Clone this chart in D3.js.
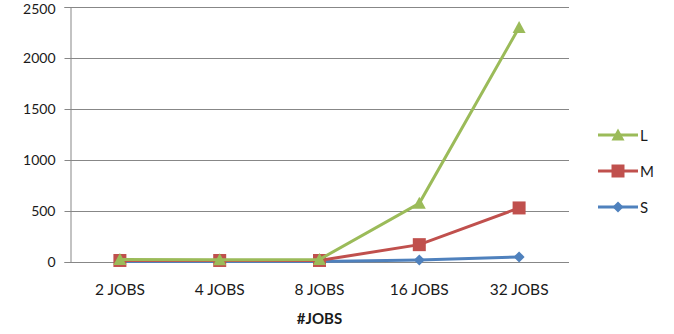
<!DOCTYPE html>
<html>
<head>
<meta charset="utf-8">
<script src="https://cdn.jsdelivr.net/npm/d3@7"></script>
<style>
  body { margin: 0; background: #fff; }
  svg { display: block; font-family: Lato, "Open Sans", sans-serif; }
</style>
</head>
<body>
<svg id="chart" width="674" height="334"></svg>
<script>
// Job counts on the x axis
const categories = ["2 JOBS", "4 JOBS", "8 JOBS", "16 JOBS", "32 JOBS"];
// Values per workload size
const seriesL = [25, 22, 25, 575, 2300];
const seriesM = [15, 15, 15, 170, 530];
const seriesS = [5, 5, 5, 20, 50];
const yTicks = [0, 500, 1000, 1500, 2000, 2500];
const seriesNames = ["L", "M", "S"];
const xTitle = "#JOBS";

const series = [
  { name: seriesNames[0], values: seriesL, color: "#9BBB59", marker: "triangle" },
  { name: seriesNames[1], values: seriesM, color: "#C0504D", marker: "square" },
  { name: seriesNames[2], values: seriesS, color: "#4F81BD", marker: "diamond" }
];

const svg = d3.select("#chart");
const plot = { left: 70, right: 569, top: 7, bottom: 262 };
const textColor = "#1a1a1a";

const x = d3.scaleBand().domain(categories).range([plot.left, plot.right]);
const y = d3.scaleLinear().domain([0, 2500]).range([plot.bottom, plot.top]);

// Horizontal gridlines
svg.append("g").selectAll("line").data(yTicks).join("line")
  .attr("x1", plot.left).attr("x2", plot.right)
  .attr("y1", d => Math.round(y(d)) + 0.5).attr("y2", d => Math.round(y(d)) + 0.5)
  .attr("stroke", "#878787").attr("stroke-width", 1);

// Y axis
const yAxis = svg.append("g").attr("transform", `translate(${plot.left + 0.5},0)`)
  .call(d3.axisLeft(y).tickValues(yTicks).tickSize(6).tickPadding(9).tickFormat(d3.format("d")));
yAxis.select(".domain").attr("stroke", "#878787");
yAxis.selectAll(".tick line").attr("stroke", "#878787");
yAxis.selectAll("text").attr("font-size", 14).attr("fill", textColor)
  .attr("font-family", "Lato, sans-serif");
// keep the topmost label inside the top edge
yAxis.selectAll(".tick").filter(d => d === 2500).select("text").attr("dy", "0.48em");

// X axis labels
const xAxis = svg.append("g").attr("transform", `translate(0,${plot.bottom})`)
  .call(d3.axisBottom(x).tickSize(0).tickPadding(22));
xAxis.select(".domain").remove();
xAxis.selectAll("text").attr("font-size", 15.5).attr("fill", textColor)
  .attr("font-family", "Lato, sans-serif");

svg.append("text")
  .attr("x", x(categories[2]) + x.bandwidth() / 2).attr("y", 324)
  .attr("text-anchor", "middle").attr("font-size", 15).attr("font-weight", "bold")
  .attr("fill", textColor).text(xTitle);

const cx = d => x(d) + x.bandwidth() / 2;

function markerPath(type, size) {
  const s = size / 2;
  if (type === "triangle") return `M0,${-s - 1}L${s + 1},${s}L${-s - 1},${s}Z`;
  if (type === "square") return `M${-s},${-s}H${s}V${s}H${-s}Z`;
  return `M0,${-s}L${s},0L0,${s}L${-s},0Z`;
}
const markerSize = { triangle: 11, square: 13, diamond: 11 };

// Lines and markers, drawn back to front so L sits on top
const line = d3.line().x((d, i) => cx(categories[i])).y(d => y(d));
[...series].reverse().forEach(s => {
  const g = svg.append("g");
  g.append("path").datum(s.values).attr("d", line)
    .attr("fill", "none").attr("stroke", s.color).attr("stroke-width", 3);
  g.selectAll("path.mk").data(s.values).join("path").attr("class", "mk")
    .attr("transform", (d, i) => `translate(${cx(categories[i])},${y(d)})`)
    .attr("d", markerPath(s.marker, markerSize[s.marker]))
    .attr("fill", s.color);
});

// Legend
const legend = svg.append("g");
series.forEach((s, i) => {
  const ly = 135 + i * 36;
  legend.append("line").attr("x1", 598).attr("x2", 638).attr("y1", ly).attr("y2", ly)
    .attr("stroke", s.color).attr("stroke-width", 3);
  legend.append("path").attr("transform", `translate(618,${ly})`)
    .attr("d", markerPath(s.marker, markerSize[s.marker])).attr("fill", s.color);
  legend.append("text").attr("x", 640).attr("y", ly + 5.5)
    .attr("font-size", 15).attr("fill", textColor).text(s.name);
});
</script>
</body>
</html>
